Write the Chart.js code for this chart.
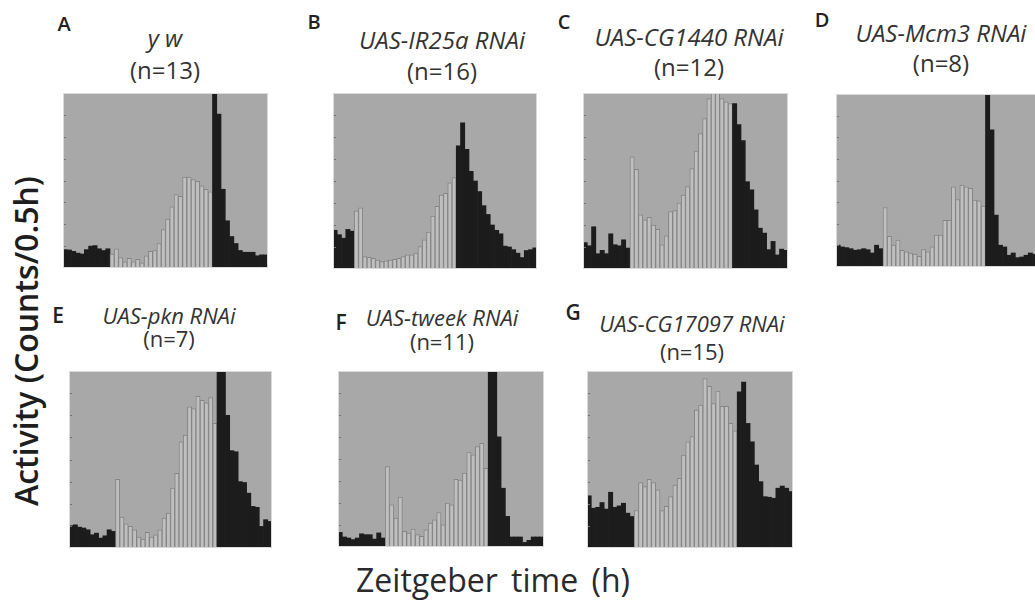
<!DOCTYPE html>
<html>
<head>
<meta charset="utf-8">
<script src="https://cdn.jsdelivr.net/npm/chart.js@4.4.1/dist/chart.umd.min.js"></script>
<style>
  body { margin: 0; width: 1035px; height: 604px; overflow: hidden; background: #fff; position: relative;
         font-family: 'Open Sans', sans-serif; color: #333; }
  .lbl { position: absolute; white-space: nowrap; line-height: 1; transform: translate(-50%, -50%); }
  canvas { position: absolute; }
</style>
</head>
<body>
<script>
// half-hour bins, 24 h per panel
const bins = [1, 2, 3, 4, 5, 6, 7, 8, 9, 10, 11, 12, 13, 14, 15, 16, 17, 18, 19, 20, 21, 22, 23, 24,
              25, 26, 27, 28, 29, 30, 31, 32, 33, 34, 35, 36, 37, 38, 39, 40, 41, 42, 43, 44, 45, 46, 47, 48];

const letters = ['A', 'B', 'C', 'D', 'E', 'F', 'G'];
const genotypes = ['y w', 'UAS-IR25a RNAi', 'UAS-CG1440 RNAi', 'UAS-Mcm3 RNAi', 'UAS-pkn RNAi', 'UAS-tweek RNAi', 'UAS-CG17097 RNAi'];
const nFlies = [13, 16, 12, 8, 7, 11, 15];

// first bin with lights on; lights stay on for 24 bins (12 h)
const lightStart = [11, 5, 11, 11, 11, 11, 11];
const lightBins = 24;

// activity, % of each panel's y range
const ywValues = [10.5, 10.3, 9.5, 8.5, 8, 10.5, 12.5, 12.8, 11, 10, 11,
  8, 11, 6, 3.5, 5.5, 3.5, 5, 3, 7, 9.5, 10, 14, 22, 28, 35, 42, 41, 52, 52, 50.5, 49.5, 47, 45, 43.5,
  100, 88, 45, 27, 18, 14, 10, 9, 9, 9, 7, 7.5, 7.5];
const ir25aValues = [22, 19.5, 17.5, 22.5, 21.5,
  33, 34.7, 7, 6.7, 6.1, 5.1, 4.2, 4.6, 5.1, 5.5, 6.1, 7, 8, 8, 9, 12.8, 16.6, 21, 30, 35.6, 42, 43, 49, 52,
  70, 83, 68, 55.5, 50, 44, 36, 31, 25, 22, 20, 13, 12.5, 11, 9, 6.5, 10.5, 11, 12];
const cg1440Values = [15, 13.2, 24, 8.7, 10.6, 8.7, 20, 13.8, 13.2, 16.6, 11.9,
  63.8, 56.6, 30.8, 28, 29.4, 25, 22.6, 13.8, 18.9, 32.6, 33.2, 37.4, 42, 46.8, 57, 67, 77, 85.5, 96.8, 100, 100, 96.8, 95, 94,
  94, 82, 73, 49.6, 45, 33.6, 23.2, 20.4, 11, 15.7, 8, 11.3, 10.6];
const mcm3Values = [12.6, 11.6, 11.2, 10.6, 9.7, 10, 10.6, 10, 8.1, 12.6, 10.6,
  34.4, 17.8, 12.6, 15.5, 9.7, 8.7, 8.1, 7.4, 6.2, 10, 8.7, 11.6, 18.4, 18.4, 27, 27, 46.4, 39, 47.4, 46.4, 45.5, 38.7, 38.3, 35.2,
  100, 79.3, 30, 12.6, 11.6, 6.8, 8.1, 5.4, 5.8, 6.8, 8.1, 7.4, 6.2];
const pknValues = [12.6, 13.1, 11.8, 11.3, 10.3, 7.5, 8.4, 5.6, 6.9, 10.3, 9.4,
  38.8, 17.4, 13.7, 12.2, 10.3, 6.2, 5, 8.8, 6.2, 7.5, 10.3, 16.9, 19.7, 33.8, 42.2, 60, 63.8, 79.7, 78.8, 85.7, 83.5, 82, 85, 70.4,
  100, 100, 75, 55, 54.4, 37.5, 37, 31, 23.5, 23, 12.2, 16, 15];
const tweekValues = [8.3, 5.7, 5.1, 4.2, 5.1, 7.5, 7, 7, 4.5, 8, 5.1,
  45.7, 24, 16.4, 28.3, 8.9, 7.9, 10.2, 7, 6, 9.8, 13.6, 15.5, 19.6, 12.6, 25, 24, 38.5, 38, 42, 54, 52.3, 57, 58.9, 44.7,
  100, 100, 62.6, 33.4, 17.4, 5.7, 5.7, 5.7, 2.6, 3.8, 5.7, 5.7, 5.7];
const cg17097Values = [29.5, 22.5, 23, 25.7, 22, 31.5, 23, 23.8, 25.3, 19.7, 17.8,
  21.2, 37, 34.7, 38.8, 37, 32.8, 21.2, 23.5, 29, 35.6, 39.4, 52.5, 60, 62.9, 77.9, 80.7, 95.7, 91.4, 81.6, 88.7, 80, 80, 70.4, 66.2,
  88.2, 93.8, 70.4, 60, 46.9, 37.5, 29, 28.7, 28.1, 33.8, 35, 33.8, 31.9];

const series = [ywValues, ir25aValues, cg1440Values, mcm3Values, pknValues, tweekValues, cg17097Values];

// page layout (px): plot boxes and text centres
const plotBox = [[63, 93, 205, 175], [333, 93, 204, 176], [583, 93, 205, 176], [836, 94, 205, 173],
                 [69, 371, 203, 177], [338, 371, 206, 176], [587, 371, 206, 177]];
const letterPos = [[64, 23.5], [314, 21.5], [564, 21.5], [822, 20], [58, 315], [341, 322], [573, 311.5]];
const titlePos = [[165, 38, 70], [442, 39.5, 71], [689, 36.5, 66.5], [941, 33, 62.5],
                  [169, 314.5, 337.5], [442, 317, 341], [692, 323, 351]];

function addText(text, x, y, size, extra) {
    const el = document.createElement('div');
    el.className = 'lbl';
    el.textContent = text;
    el.style.left = x + 'px';
    el.style.top = y + 'px';
    el.style.fontSize = size + 'px';
    Object.assign(el.style, extra || {});
    document.body.appendChild(el);
    return el;
}

const plotBackground = {
    id: 'plotBackground',
    beforeDraw(chart) {
        const a = chart.chartArea;
        const ctx = chart.ctx;
        ctx.save();
        ctx.fillStyle = '#a8a8a8';
        ctx.fillRect(a.left, a.top, a.right - a.left, a.bottom - a.top);
        ctx.restore();
    },
    afterDraw(chart) {
        const a = chart.chartArea;
        const ctx = chart.ctx;
        const y = chart.scales.y;
        ctx.save();
        // small tick marks on the inside of the left edge
        ctx.strokeStyle = '#747474';
        ctx.lineWidth = 1;
        y.ticks.forEach(t => {
            const py = Math.round(y.getPixelForValue(t.value)) + 0.5;
            ctx.beginPath();
            ctx.moveTo(a.left, py);
            ctx.lineTo(a.left + 3, py);
            ctx.stroke();
        });
        ctx.strokeStyle = '#dadada';
        ctx.strokeRect(a.left + 0.5, a.top + 0.5, a.right - a.left - 1, a.bottom - a.top - 1);
        ctx.restore();
    }
};

function makePanel(i) {
    const box = plotBox[i];
    const canvas = document.createElement('canvas');
    canvas.width = box[2];
    canvas.height = box[3];
    canvas.style.left = box[0] + 'px';
    canvas.style.top = box[1] + 'px';
    document.body.appendChild(canvas);

    const start = lightStart[i];
    const isLight = bins.map((b, k) => k >= start && k < start + lightBins);

    new Chart(canvas.getContext('2d'), {
        type: 'bar',
        data: {
            labels: bins,
            datasets: [{
                data: series[i],
                backgroundColor: isLight.map(l => l ? '#bfbfbf' : '#1c1c1c'),
                borderColor: isLight.map(l => l ? '#858585' : '#1c1c1c'),
                borderWidth: isLight.map(l => l ? 1 : 0),
                borderSkipped: false,
                barPercentage: 1,
                categoryPercentage: 1
            }]
        },
        options: {
            responsive: false,
            animation: false,
            events: [],
            layout: { padding: 0 },
            plugins: { legend: { display: false }, tooltip: { enabled: false } },
            scales: {
                x: { display: false },
                y: { display: false, min: 0, max: 100, ticks: { stepSize: 12.5 } }
            }
        },
        plugins: [plotBackground]
    });
}

for (let i = 0; i < series.length; i++) {
    makePanel(i);
    const rowSize = i < 4 ? 24 : 22;
    addText(letters[i], letterPos[i][0], letterPos[i][1], i < 4 ? 20 : 21, { fontWeight: '600', color: '#222' });
    addText(genotypes[i], titlePos[i][0], titlePos[i][1], rowSize, { fontStyle: 'italic' });
    addText('(n=' + nFlies[i] + ')', titlePos[i][0], titlePos[i][2], rowSize);
}

addText('Activity (Counts/0.5h)', 26, 341, 32,
        { fontWeight: '600', color: '#1e1e1e', transform: 'translate(-50%, -50%) rotate(-90deg)' });
addText('Zeitgeber time (h)', 493, 580, 32, { wordSpacing: '5px', color: '#2a2a2a' });
</script>
</body>
</html>
